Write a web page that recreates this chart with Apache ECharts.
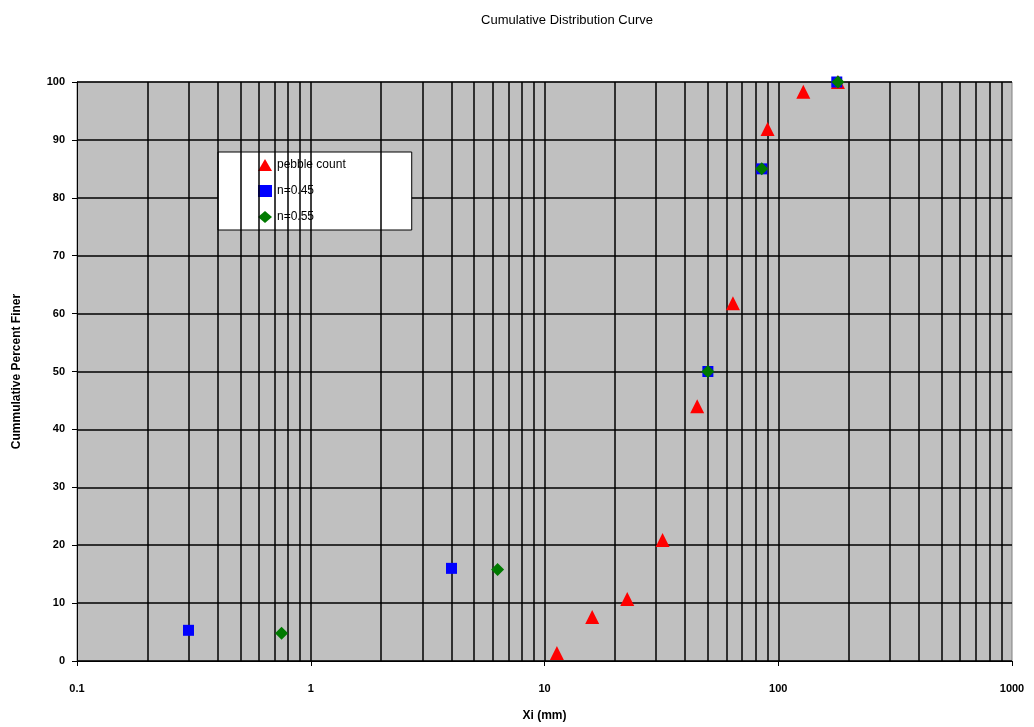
<!DOCTYPE html>
<html>
<head>
<meta charset="utf-8">
<script src="https://cdn.jsdelivr.net/npm/echarts@6/dist/echarts.min.js"></script>
<style>
  html, body { margin: 0; padding: 0; background: #fff; }
  #chart { width: 1034px; height: 727px; }
</style>
</head>
<body>
<div id="chart"></div>
<script>
// pebble count
var pebbleX = [11.3, 16, 22.6, 32, 45, 64, 90, 128, 180];
var pebbleY = [1.4, 7.6, 10.7, 20.9, 44, 61.8, 91.9, 98.3, 100];
// n=0.45
var n45X = [0.3, 4, 50, 85, 178];
var n45Y = [5.3, 16, 50, 85, 100];
// n=0.55
var n55X = [0.75, 6.3, 50, 85, 180];
var n55Y = [4.8, 15.8, 50, 85, 100];
// vertical grid lines on the log axis (every 1..9 x decade)
var xGridValues = [0.2, 0.3, 0.4, 0.5, 0.6, 0.7, 0.8, 0.9,
  1, 2, 3, 4, 5, 6, 7, 8, 9,
  10, 20, 30, 40, 50, 60, 70, 80, 90,
  100, 200, 300, 400, 500, 600, 700, 800, 900];
var xTickLabels = [0.1, 1, 10, 100, 1000];

function pairs(xs, ys) {
  return xs.map(function (x, i) { return [x, ys[i]]; });
}

var labelFont = "Liberation Sans";
var chart = echarts.init(document.getElementById("chart"));
var option = {
  animation: false,
  title: {
    text: "Cumulative Distribution Curve",
    left: 562,
    textAlign: "center",
    top: 9,
    textStyle: { fontSize: 13, fontWeight: "normal", color: "#000", fontFamily: labelFont }
  },
  legend: {
    data: ["pebble count", "n=0.45", "n=0.55"],
    orient: "vertical",
    left: 218,
    top: 152,
    padding: [7, 66, 7, 40],
    itemGap: 14,
    itemWidth: 14,
    itemHeight: 12,
    backgroundColor: "#fff",
    borderColor: "#000",
    borderWidth: 1,
    textStyle: { fontSize: 12, color: "#000", fontFamily: labelFont }
  },
  grid: {
    left: 77,
    right: 22,
    top: 82,
    bottom: 66,
    show: true,
    backgroundColor: "#c0c0c0",
    borderColor: "#808080",
    borderWidth: 1
  },
  xAxis: {
    type: "log",
    logBase: 10,
    min: 0.1,
    max: 1000,
    name: "Xi (mm)",
    nameLocation: "middle",
    nameGap: 49,
    nameTextStyle: { fontSize: 12, fontWeight: "bold", color: "#000", fontFamily: labelFont },
    axisLine: { lineStyle: { color: "#000", width: 1 } },
    axisTick: { show: true, length: 5, lineStyle: { color: "#000" } },
    axisLabel: {
      margin: 22,
      fontSize: 11,
      fontWeight: "bold",
      color: "#000",
      fontFamily: labelFont,
      formatter: function (v) {
        var hit = xTickLabels.filter(function (t) { return Math.abs(t - v) / t < 1e-6; });
        return hit.length ? String(hit[0]) : "";
      }
    },
    splitLine: { show: false }
  },
  yAxis: {
    type: "value",
    min: 0,
    max: 100,
    interval: 10,
    name: "Cummulative Percent Finer",
    nameLocation: "middle",
    nameGap: 54,
    nameTextStyle: { fontSize: 12, fontWeight: "bold", color: "#000", fontFamily: labelFont },
    axisLine: { show: true, lineStyle: { color: "#000", width: 1 } },
    axisTick: { show: true, length: 5, lineStyle: { color: "#000" } },
    axisLabel: { margin: 12, fontSize: 11, fontWeight: "bold", color: "#000", fontFamily: labelFont },
    splitLine: { show: true, lineStyle: { color: "#000", width: 1.5 } }
  },
  series: [
    {
      name: "grid",
      type: "line",
      data: [],
      z: 1,
      silent: true,
      markLine: {
        silent: true,
        symbol: "none",
        label: { show: false },
        lineStyle: { color: "#000", width: 1.5, type: "solid" },
        data: xGridValues.map(function (v) { return { xAxis: v }; })
      }
    },
    {
      name: "pebble count",
      type: "scatter",
      z: 5,
      symbol: "triangle",
      symbolSize: [14, 14],
      itemStyle: { color: "#ff0000", opacity: 1 },
      data: pairs(pebbleX, pebbleY)
    },
    {
      name: "n=0.45",
      type: "scatter",
      z: 6,
      symbol: "rect",
      symbolSize: 11,
      itemStyle: { color: "#0000ff", opacity: 1 },
      data: pairs(n45X, n45Y)
    },
    {
      name: "n=0.55",
      type: "scatter",
      z: 7,
      symbol: "diamond",
      symbolSize: 13,
      itemStyle: { color: "#007a00", opacity: 1 },
      data: pairs(n55X, n55Y)
    }
  ]
};
chart.setOption(option);
window.addEventListener("resize", function () {
  chart.resize();
});
</script>
</body>
</html>
